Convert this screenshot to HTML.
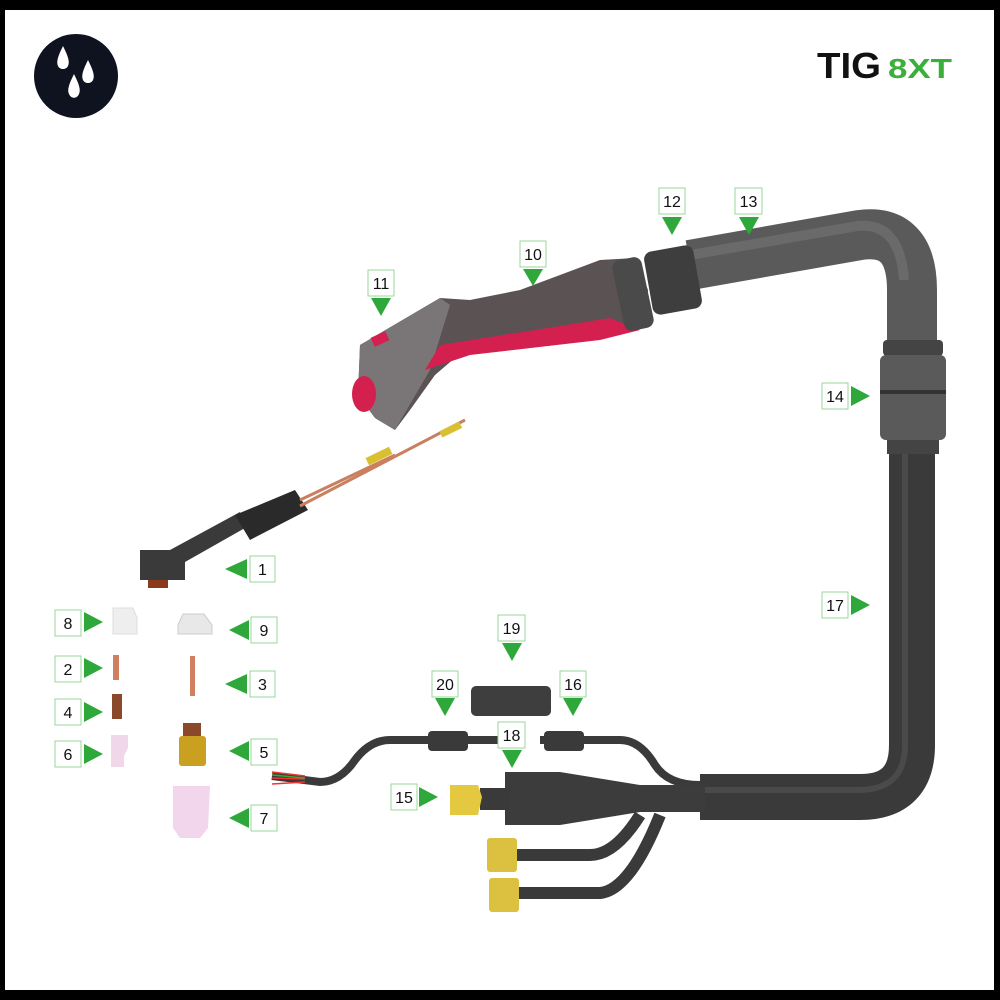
<!DOCTYPE html>
<html><head><meta charset="utf-8"><style>
html,body{margin:0;padding:0;background:#000}
svg{display:block}
text{font-family:"Liberation Sans",sans-serif}
</style></head><body>
<svg width="1000" height="1000" viewBox="0 0 1000 1000" xmlns="http://www.w3.org/2000/svg">
<rect width="1000" height="1000" fill="#000"/>
<rect x="5" y="10" width="989" height="980" fill="#fff"/>
<circle cx="76" cy="76" r="42" fill="#0e131f"/>
<path d="M63 46 C58 56 56 62 58 66 C60 70 66 70 68 66 C70 62 68 56 63 46Z" fill="#fff"/>
<path d="M88 60 C83 70 81 76 83 80 C85 84 91 84 93 80 C95 76 93 70 88 60Z" fill="#fff"/>
<path d="M74 74 C69 84 67 90 69 94 C71 99 77 99 79 94 C81 90 79 84 74 74Z" fill="#fff"/>
<text x="817" y="78" font-size="36" font-weight="bold" fill="#111" textLength="64" lengthAdjust="spacingAndGlyphs">TIG</text>
<text x="888" y="78" font-size="28" font-weight="bold" fill="#3ab03a" textLength="64" lengthAdjust="spacingAndGlyphs">8XT</text>

<path d="M700 797 L860 797 Q912 797 912 745 L912 430" fill="none" stroke="#3a3a3a" stroke-width="46"/>
<path d="M700 790 L858 790 Q905 790 905 745 L905 430" fill="none" stroke="#555" stroke-width="6" opacity=".6"/>
<path d="M690 265 L860 235 Q912 228 912 290 L912 350" fill="none" stroke="#5a5a5a" stroke-width="50"/>
<path d="M690 255 L858 226 Q900 222 904 280" fill="none" stroke="#707070" stroke-width="10" opacity=".7"/>
<rect x="883" y="340" width="60" height="16" rx="4" fill="#444"/>
<rect x="880" y="355" width="66" height="85" rx="6" fill="#5a5a5a"/>
<rect x="880" y="390" width="66" height="4" fill="#333"/>
<rect x="887" y="440" width="52" height="14" fill="#444"/>
<rect x="648" y="248" width="50" height="64" rx="8" fill="#3e3e3e" transform="rotate(-10 673 280)"/>
<path d="M360 345 L440 298 L470 300 L520 290 L600 260 L635 258 L648 290 L645 325 L620 335 L470 345 L435 375 L410 410 L395 430 L375 418 L358 395 Z" fill="#5a5253"/>
<path d="M360 345 L440 298 L450 305 L430 370 L395 430 L375 418 L358 395 Z" fill="#7a7677"/>
<path d="M440 345 L610 318 L640 330 L600 340 L470 355 L425 370 Z" fill="#d3204f"/>
<rect x="372" y="334" width="16" height="10" fill="#d3204f" transform="rotate(-25 380 339)"/>
<ellipse cx="364" cy="394" rx="12" ry="18" fill="#d3204f"/>
<rect x="618" y="258" width="30" height="72" rx="8" fill="#4a4a4a" transform="rotate(-12 633 294)"/>
<path d="M140 562 L185 562 L245 528 L240 512 L170 550 L140 550 Z" fill="#3a3a3a"/>
<rect x="140" y="560" width="45" height="20" fill="#3a3a3a"/>
<rect x="148" y="580" width="20" height="8" fill="#8a3a1a"/>
<path d="M235 515 L295 490 L308 510 L250 540 Z" fill="#2a2a2a"/>
<line x1="300" y1="500" x2="395" y2="455" stroke="#c88060" stroke-width="3"/>
<line x1="300" y1="506" x2="465" y2="420" stroke="#c88060" stroke-width="3"/>
<rect x="366" y="452" width="26" height="8" fill="#d8c030" transform="rotate(-26 379 456)"/>
<rect x="440" y="426" width="22" height="7" fill="#d8c030" transform="rotate(-26 451 430)"/>
<path d="M113 608 L133 608 L137 618 L137 634 L113 634 Z" fill="#eee" stroke="#ddd"/>
<path d="M183 614 L204 614 L212 625 L212 634 L178 634 L178 625 Z" fill="#e8e8e8" stroke="#ccc"/>
<rect x="113" y="655" width="6" height="25" fill="#d08060"/>
<rect x="190" y="656" width="5" height="40" fill="#d08060"/>
<rect x="112" y="694" width="10" height="25" fill="#8a4a2a"/>
<path d="M111 735 L128 735 L128 748 L124 756 L124 767 L111 767 Z" fill="#f0d8ea"/>
<rect x="183" y="723" width="18" height="15" fill="#8a4a2a"/>
<rect x="179" y="736" width="27" height="30" rx="3" fill="#c9a020"/>
<path d="M173 786 L210 786 L208 828 L200 838 L180 838 L173 828 Z" fill="#f2d6ec"/>
<path d="M272 776 L320 782 Q340 782 355 760 Q370 740 390 740 L522 740" fill="none" stroke="#3a3a3a" stroke-width="8"/>
<path d="M272 772 L305 776 M272 778 L305 779 M272 784 L305 782" stroke="#e33" stroke-width="1.5"/>
<path d="M272 775 L305 778" stroke="#3a3" stroke-width="1.5"/>
<rect x="428" y="731" width="40" height="20" rx="4" fill="#3a3a3a"/>
<path d="M540 740 L620 740 Q640 740 655 765 Q668 785 700 785" fill="none" stroke="#3a3a3a" stroke-width="8"/>
<rect x="544" y="731" width="40" height="20" rx="4" fill="#3a3a3a"/>
<rect x="471" y="686" width="80" height="30" rx="5" fill="#3e3e3e"/>
<path d="M505 772 L560 772 L640 785 L705 785 L705 812 L640 812 L560 825 L505 825 Z" fill="#3c3c3c"/>
<rect x="480" y="788" width="30" height="22" fill="#3a3a3a"/>
<path d="M450 785 L478 785 L482 797 L478 815 L450 815 Z" fill="#e3c840"/>
<path d="M640 815 Q615 855 590 855 L515 855" fill="none" stroke="#3a3a3a" stroke-width="12"/>
<path d="M660 815 Q630 890 600 893 L515 893" fill="none" stroke="#3a3a3a" stroke-width="12"/>
<rect x="487" y="838" width="30" height="34" rx="3" fill="#dcc040"/>
<rect x="489" y="878" width="30" height="34" rx="3" fill="#dcc040"/>

<g font-size="16" fill="#111" text-anchor="middle">
<g stroke="#9ad69a" stroke-width="1" fill="#fff">
<rect x="250" y="556" width="25" height="26"/>
<rect x="55" y="610" width="26" height="26"/>
<rect x="251" y="617" width="26" height="26"/>
<rect x="55" y="656" width="26" height="26"/>
<rect x="250" y="671" width="25" height="26"/>
<rect x="55" y="699" width="26" height="26"/>
<rect x="251" y="739" width="26" height="26"/>
<rect x="55" y="741" width="26" height="26"/>
<rect x="251" y="805" width="26" height="26"/>
<rect x="520" y="241" width="26" height="26"/>
<rect x="368" y="270" width="26" height="26"/>
<rect x="659" y="188" width="26" height="26"/>
<rect x="735" y="188" width="27" height="26"/>
<rect x="822" y="383" width="26" height="26"/>
<rect x="822" y="592" width="26" height="26"/>
<rect x="498" y="615" width="27" height="26"/>
<rect x="432" y="671" width="26" height="26"/>
<rect x="560" y="671" width="26" height="26"/>
<rect x="498" y="722" width="27" height="26"/>
<rect x="391" y="784" width="26" height="26"/>
</g>
<g fill="#2ea83a">
<path d="M225 569 L247 559 L247 579Z"/>
<path d="M103 622 L84 612 L84 632Z"/>
<path d="M229 630 L249 620 L249 640Z"/>
<path d="M103 668 L84 658 L84 678Z"/>
<path d="M225 684 L247 674 L247 694Z"/>
<path d="M103 712 L84 702 L84 722Z"/>
<path d="M229 751 L249 741 L249 761Z"/>
<path d="M103 754 L84 744 L84 764Z"/>
<path d="M229 818 L249 808 L249 828Z"/>
<path d="M533 286 L523 269 L543 269Z"/>
<path d="M381 316 L371 298 L391 298Z"/>
<path d="M672 235 L662 217 L682 217Z"/>
<path d="M749 235 L739 217 L759 217Z"/>
<path d="M870 396 L851 386 L851 406Z"/>
<path d="M870 605 L851 595 L851 615Z"/>
<path d="M512 661 L502 643 L522 643Z"/>
<path d="M445 716 L435 698 L455 698Z"/>
<path d="M573 716 L563 698 L583 698Z"/>
<path d="M512 768 L502 750 L522 750Z"/>
<path d="M438 797 L419 787 L419 807Z"/>
</g>
<text x="262.5" y="575">1</text>
<text x="68" y="629">8</text>
<text x="264" y="636">9</text>
<text x="68" y="675">2</text>
<text x="262.5" y="690">3</text>
<text x="68" y="718">4</text>
<text x="264" y="758">5</text>
<text x="68" y="760">6</text>
<text x="264" y="824">7</text>
<text x="533" y="260">10</text>
<text x="381" y="289">11</text>
<text x="672" y="207">12</text>
<text x="748.5" y="207">13</text>
<text x="835" y="402">14</text>
<text x="835" y="611">17</text>
<text x="511.5" y="634">19</text>
<text x="445" y="690">20</text>
<text x="573" y="690">16</text>
<text x="511.5" y="741">18</text>
<text x="404" y="803">15</text>
</g>
</svg>
</body></html>
